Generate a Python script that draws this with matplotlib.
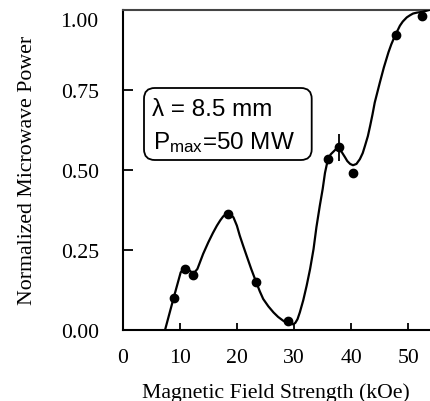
import matplotlib
matplotlib.use("Agg")
import matplotlib.pyplot as plt
from matplotlib.patches import FancyBboxPatch

# Measured data points
data_x = [8.95, 10.9, 12.4, 18.4, 23.4, 29.0, 36.0, 37.8, 40.3, 47.8, 52.3]
data_y = [0.10, 0.19, 0.172, 0.362, 0.15, 0.028, 0.533, 0.57, 0.49, 0.92, 0.98]

# Error bar on one point
err_x = [37.8]
err_y = [0.57]
err_size = [0.042]

# Fitted curve
curve_x = [7.45, 8.95, 10.17, 10.6, 10.9, 11.4, 11.8, 12.4, 13.1, 14.1, 15.0, 15.8, 16.5,
           17.1, 17.6, 18.0, 18.4, 18.9, 19.4, 20.0, 20.5, 21.1, 21.7, 22.5, 23.3, 24.0,
           24.6, 25.5, 26.4, 27.2, 28.1, 28.7, 29.3, 29.8, 30.2, 30.6, 31.0, 31.6, 32.2,
           32.8, 33.4, 33.9, 34.5, 35.0, 35.4, 35.7, 36.0, 36.4, 36.85, 37.3, 37.8, 38.3,
           38.9, 39.3, 39.8, 40.3, 40.9, 41.5, 42.0, 42.4, 42.9, 43.3, 43.7, 44.1, 45.0,
           45.7, 46.5, 47.0, 47.6, 48.5, 49.0, 49.7, 50.3, 50.8, 51.5, 52.3, 53.0, 53.8]
curve_y = [0.0, 0.10, 0.179, 0.189, 0.193, 0.19, 0.184, 0.175, 0.19, 0.237, 0.273, 0.302, 0.325,
           0.342, 0.354, 0.36, 0.362, 0.36, 0.351, 0.325, 0.294, 0.262, 0.231, 0.19, 0.152, 0.12,
           0.096, 0.073, 0.054, 0.04, 0.028, 0.022, 0.018, 0.017, 0.021, 0.033, 0.054, 0.092, 0.138,
           0.19, 0.252, 0.32, 0.388, 0.44, 0.49, 0.515, 0.535, 0.548, 0.556, 0.564, 0.566, 0.556,
           0.539, 0.527, 0.518, 0.514, 0.518, 0.533, 0.552, 0.575, 0.605, 0.6375, 0.672, 0.71, 0.773,
           0.82, 0.867, 0.892, 0.917, 0.95, 0.963, 0.976, 0.983, 0.988, 0.991, 0.993, 0.996, 1.0]

xticks = [0, 10, 20, 30, 40, 50]
yticks = [0.0, 0.25, 0.50, 0.75]
ytick_labels = ["0.00", "0.25", "0.50", "0.75"]
top_label = "1.00"

plt.rcParams['mathtext.fontset'] = 'custom'
plt.rcParams['mathtext.rm'] = 'Liberation Sans'
plt.rcParams['mathtext.it'] = 'Liberation Sans:italic'

W, H = 430, 402
fig = plt.figure(figsize=(W / 100, H / 100), dpi=100)
left_px, right_px, top_px, bot_px = 122.5, 430, 10.7, 330.7
ax = fig.add_axes([left_px / W, 1 - bot_px / H, (right_px - left_px) / W, (bot_px - top_px) / H])

ax.plot(curve_x, curve_y, color='black', lw=1.6, solid_joinstyle='round', zorder=3)
ax.plot(data_x, data_y, 'o', color='black', ms=6, zorder=4)
ax.errorbar(err_x, err_y, yerr=err_size, fmt='none', ecolor='black', elinewidth=1.3, capsize=0, zorder=4)

ax.set_xlim(0, 53.76)
ax.set_ylim(0, 1.0)

serif = 'Liberation Serif'
fs = 15.7
ax.set_xticks(xticks)
ax.set_xticklabels([str(v) for v in xticks], fontfamily=serif, fontsize=fs)
ax.set_yticks(yticks)
ax.set_yticklabels(ytick_labels, fontfamily=serif, fontsize=fs)
ax.tick_params(axis='x', direction='in', length=5, width=1.3, pad=13.5)
ax.tick_params(axis='y', direction='in', length=7.5, width=1.3, pad=17)
ax.annotate(top_label, xy=(0, 1.0), xycoords=('axes fraction', 'data'),
            xytext=(-24, -12), textcoords='offset pixels', ha='right', va='center',
            fontfamily=serif, fontsize=fs)

for s in ['left', 'bottom', 'top']:
    ax.spines[s].set_linewidth(1.5)
ax.spines['top'].set_color('#444444')
ax.spines['right'].set_visible(False)

ax.set_xlabel('Magnetic Field Strength (kOe)', fontfamily=serif, fontsize=fs, labelpad=10.5)
ax.set_ylabel('Normalized Microwave Power', fontfamily=serif, fontsize=fs, labelpad=17)

# Annotation box
ax_w = right_px - left_px
ax_h = bot_px - top_px
bx0 = (144 - left_px) / ax_w
bx1 = (311.7 - left_px) / ax_w
by1 = (bot_px - 89) / ax_h
by0 = (bot_px - 161) / ax_h
box = FancyBboxPatch((bx0, by0), bx1 - bx0, by1 - by0, transform=ax.transAxes,
                     boxstyle='round,pad=0,rounding_size=0.035', facecolor='white',
                     edgecolor='black', lw=1.3, zorder=5, mutation_aspect=ax_w / ax_h)
ax.add_patch(box)
sans = 'Liberation Sans'
ax.text((151.5 - left_px) / ax_w, (bot_px - 110) / ax_h, 'λ = 8.5 mm', transform=ax.transAxes,
        fontfamily=sans, fontsize=17.5, ha='left', va='center', zorder=6)
ax.text((153 - left_px) / ax_w, (bot_px - 143) / ax_h, r'P$_{\mathrm{max}}$=50 MW', transform=ax.transAxes,
        fontfamily=sans, fontsize=17.5, ha='left', va='center', zorder=6)

fig.savefig('out.png', dpi=100)
